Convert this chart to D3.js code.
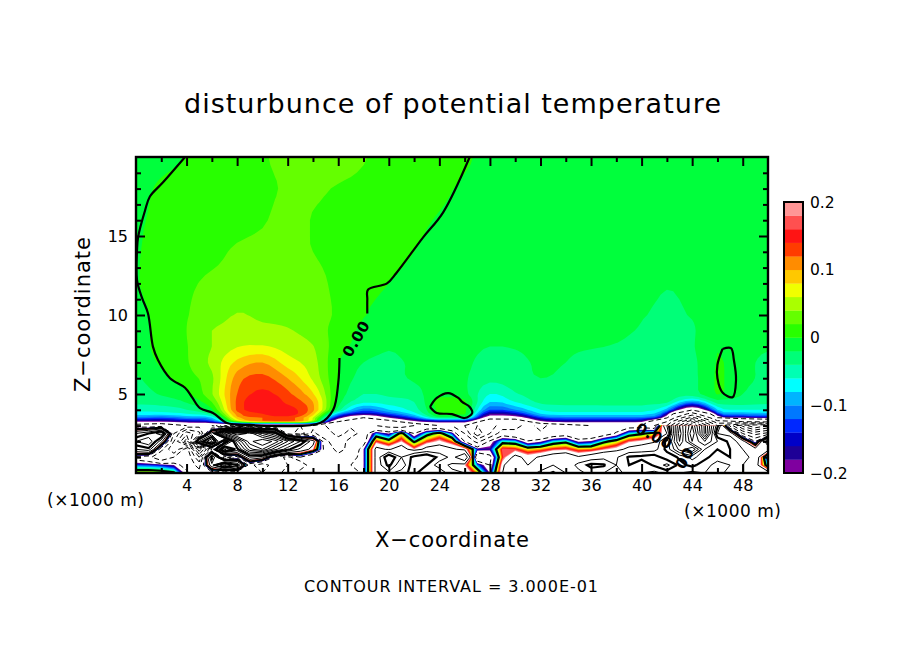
<!DOCTYPE html>
<html><head><meta charset="utf-8">
<script src="https://cdn.jsdelivr.net/npm/d3@7"></script>
<style>html,body{margin:0;background:#fff}svg{display:block}text{font-family:"DejaVu Sans",sans-serif;fill:#000}</style>
</head><body><svg id="c" width="904" height="654"></svg>
<script>
const titleText="disturbunce of potential temperature";
const xLabel="X\u2212coordinate", zLabel="Z\u2212coordinate", unitLabel="(\u00d71000 m)";
const intervalText="CONTOUR INTERVAL = 3.000E-01";
const xMajor=[4,8,12,16,20,24,28,32,36,40,44,48];
const xMinor=d3.range(2,50,4);
const zMajor=[5,10,15];
const zMinor=[1,2,3,4,6,7,8,9,11,12,13,14,16,17,18,19];
const barTicks=[-0.2,-0.1,0,0.1,0.2];
const levels=[-.2,-.18,-.16,-.14,-.12,-.1,-.08,-.06,-.04,-.02,0,.02,.04,.06,.08,.1,.12,.14,.16,.18,.2];
const bandColors=["#7f009f","#1e0096","#0000c8","#0028ff","#0078ff","#00b4ff","#00ffff","#00ffb4","#00ff78","#00ff3c","#28ff00","#64ff00","#aaff00","#f0ff00","#ffc800","#ff8c00","#ff3c00","#ff1414","#ff5050","#ff9696"];
const lineLevels=[-3.6,-3.3,-3,-2.7,-2.4,-2.1,-1.8,-1.5,-1.2,-.9,-.6,-.3,0,.3,.6,.9,1.2,1.5,1.8,2.1,2.4,2.7,3,3.3];
const upperLineLevels=lineLevels.filter(v=>v!==0);
const heavyLevels=[0,.9];

// upper field: columns x = 0,2,...,50 km
const upperZ=[20,18,16,14,12,10,9,8,7,6,5,4.5,4,3.75,3.5,3.25,3];
const upperRows=[
[-.012,-.006,.001,.01,.015,.019,.023,.026,.026,.021,.014,.011,.006,.002,-.004,-.006,-.007,-.008,-.009,-.009,-.009,-.009,-.009,-.009,-.009,-.009],
[-.006,.003,.008,.012,.015,.018,.021,.022,.019,.016,.012,.009,.003,-.002,-.005,-.006,-.007,-.008,-.009,-.009,-.009,-.009,-.009,-.009,-.009,-.009],
[-.002,.004,.009,.012,.015,.019,.023,.0195,.016,.012,.008,.003,-.001,-.004,-.006,-.007,-.007,-.008,-.009,-.009,-.009,-.01,-.01,-.009,-.009,-.009],
[-.001,.006,.012,.016,.022,.024,.024,.02,.015,.01,.005,.0,-.003,-.005,-.007,-.007,-.008,-.008,-.009,-.01,-.011,-.012,-.012,-.01,-.009,-.009],
[-.001,.009,.017,.023,.026,.029,.029,.025,.016,.006,.0,-.004,-.006,-.007,-.008,-.008,-.008,-.009,-.01,-.012,-.014,-.019,-.016,-.012,-.01,-.009],
[-.004,.005,.019,.029,.041,.036,.033,.027,.017,.001,-.005,-.008,-.009,-.01,-.011,-.012,-.012,-.013,-.014,-.016,-.019,-.023,-.019,-.014,-.012,-.01],
[-.006,.006,.02,.04,.047,.046,.042,.031,.012,-.004,-.008,-.01,-.011,-.012,-.013,-.013,-.014,-.015,-.016,-.018,-.021,-.026,-.022,-.006,-.01,-.012],
[-.008,.007,.019,.04,.059,.062,.052,.041,.008,-.008,-.018,-.012,-.012,-.014,-.02,-.019,-.016,-.018,-.019,-.021,-.024,-.027,-.022,-.001,-.012,-.018],
[-.012,.003,.018,.045,.085,.1,.07,.048,.001,-.02,-.024,-.017,-.013,-.016,-.028,-.024,-.018,-.02,-.026,-.029,-.03,-.03,-.025,.001,-.014,-.024],
[-.022,-.006,.012,.036,.11,.126,.1,.056,.0,-.028,-.026,-.018,-.014,-.018,-.034,-.027,-.02,-.024,-.03,-.03,-.03,-.03,-.026,.002,-.016,-.022],
[-.028,-.018,-.004,.038,.12,.145,.125,.082,-.004,-.04,-.036,-.028,-.006,-.014,-.06,-.042,-.03,-.03,-.03,-.032,-.032,-.032,-.03,.001,-.02,-.024],
[-.034,-.03,-.018,.02,.125,.155,.135,.1,-.012,-.055,-.05,-.04,.008,.004,-.08,-.06,-.036,-.034,-.034,-.034,-.034,-.036,-.1,-.03,-.03,-.034],
[-.055,-.052,-.04,-.004,.125,.15,.15,.105,-.03,-.11,-.08,-.05,.006,.006,-.12,-.1,-.06,-.05,-.05,-.05,-.05,-.09,-.28,-.08,-.06,-.06],
[-.07,-.07,-.06,-.03,.11,.14,.155,.09,-.09,-.16,-.12,-.07,.003,.003,-.17,-.15,-.08,-.07,-.07,-.07,-.07,-.16,-.7,-.14,-.1,-.09],
[-.11,-.12,-.1,-.08,.09,.12,.13,.06,-.17,-.3,-.2,-.12,-.03,-.03,-.25,-.24,-.13,-.11,-.11,-.11,-.11,-.28,-1.3,-.3,-.2,-.18],
[-.2,-.2,-.17,-.14,.02,.09,.1,.02,-.3,-.5,-.35,-.22,-.17,-.17,-.4,-.4,-.22,-.18,-.18,-.18,-.19,-.6,-2.1,-.7,-.6,-.5],
[-.35,-.4,-.3,-.3,-.3,-.3,-.3,-.3,-.5,-.6,-.5,-.4,-.3,-.3,-.5,-.5,-.4,-.35,-.3,-.3,-.3,-.9,-2.7,-1.2,-1.6,-1.8]
];
// lower field: columns x = 0,1,...,50 km
const lowerZ=[3,2.5,2,1.5,1,.5,0];
const lowerRows=[
[-.5,-.6,-.5,-.4,-.4,-.5,-.6,-1.5,-2.2,-1.8,-1.4,-1,-.8,-.9,-.7,-.6,-.5,-.5,-.6,-.6,-.7,-.8,-.6,-.5,-.5,-.6,-.9,-1.2,-1,-.8,-.7,-.5,-.7,-.5,-.5,-.4,-.4,-.4,-.4,-.4,-.4,-.5,.6,2.4,1.2,2.8,1,-.7,-1.6,-2.1,-1.8],
[.6,.9,1.4,-.6,-1.4,-1,.4,2.2,3,2.6,1.8,1.2,-.7,-1.1,-.5,-.9,-.4,-.8,-.4,-.1,-.2,.05,-.3,-.05,.05,-.14,-.6,-1.4,-.9,-.4,-.5,-.6,-.55,-.45,-.4,-.55,-.5,-.4,-.28,-.07,-.02,.05,.3,2.6,.9,2.8,.6,.5,-.6,-1,-.8],
[1.2,1.5,.4,-.9,-2,.6,1.6,-.4,1.4,2.6,3,2.6,1.8,1.2,.4,-.5,-.9,-.4,-.4,.16,.05,.2,-.02,.14,.22,.12,-.3,-.7,-.25,-.05,-.07,-.28,-.21,-.07,-.03,-.21,-.18,-.03,.05,.18,.22,.28,1,2.4,1.2,1.8,1.2,.8,.4,-.3,.9],
[.6,.8,-.5,-1.2,-.4,-2,-.6,1.6,.8,2,2.4,1.6,1,.5,.2,-.4,-.7,-.5,-.2,.35,.28,.4,.2,.36,.4,.33,.25,-.14,-.17,.18,.16,.07,.1,.16,.18,.1,.11,.18,.24,.35,.4,.45,1,1.9,2.4,1.2,.9,.9,.6,.4,.4],
[-.4,-.5,-.9,-.6,-.3,-1.2,1,-.8,-.4,.6,.4,-.4,-.7,-.3,-.6,-.3,-.5,-.4,-.2,.35,1.2,.6,1,1.2,.8,.5,.9,-.5,-.35,.15,.35,.25,.32,.4,.45,.32,.4,.5,.55,.95,1,1.1,.7,.95,1.3,1,.7,.9,.7,.5,-.25],
[-.12,-.13,-.15,-.2,-.4,-.7,.5,1.6,.9,-.5,-.8,-.4,-.6,-.9,-.3,-.6,-.4,-.3,-.2,.35,1,.3,1.2,.9,.4,.25,.2,-.1,-.3,.25,.6,.3,.35,.6,.35,.7,1,.95,.6,.9,.7,.95,1.3,.8,1,.7,.5,.6,.6,.4,-.1],
[.07,.08,.06,.02,-.25,-.5,-.4,-.9,-.6,-.3,-.6,-.4,-.8,-.4,-.6,-.4,-.3,-.6,-.2,.35,.5,.8,1,.6,.9,.35,.3,.1,-.2,.3,.5,.4,.7,.95,.6,.5,.7,.6,.5,.7,.6,.5,.7,.6,.5,.6,.5,.7,.6,.5,.4]
];
// zero contour, [km, km]
const zeroLineA=[[3.88,20],[2.14,18.4],[1.1,17.5],[.71,16.6],[.16,14.9],[.08,14.1],[.08,12.2],[.47,11.1],[.95,10.1],[1.34,8],[1.74,7.15],[2.69,6],[3.88,5.4],[4.43,4.8],[5.06,4.1],[6.09,3.8],[7.2,3.16],[9,3.04],[11.4,2.97],[14.56,3.16],[15.6,4],[16,5.7],[16.1,7.28]];
const zeroLineB=[[18.3,10.1],[18.3,11],[18.35,11.6],[19.86,12],[20.6,12.66],[22.7,14.9],[24.3,16.5],[26.4,20]];
const zeroLoopC=[[23.26,4.18],[23.8,4.75],[24.7,5.06],[25.5,4.75],[25.8,4.5],[26.4,4.18],[26.6,3.8],[26,3.48],[25,3.73],[23.8,3.8],[23.26,4.18]];
const zeroLoopD=[[46.4,7.85],[47.07,7.9],[47.3,7.15],[47.47,5.9],[47.2,4.8],[46.4,5.1],[46,6],[46,6.85],[46.4,7.85]];
const contourLabels=[{x:17.4,z:8.5,a:-60,t:"0.00"},{x:41,z:2.35,a:28,t:"0.00"},{x:43.4,z:.95,a:-60,t:"00"}];

const svg=d3.select("#c");
const x=d3.scaleLinear().domain([0,50]).range([136,768]);
const z=d3.scaleLinear().domain([0,20]).range([473,157]);
const defs=svg.append("defs");
defs.append("clipPath").attr("id","plot").append("rect").attr("x",136).attr("y",157).attr("width",632).attr("height",316);
const plot=svg.append("g").attr("clip-path","url(#plot)");
plot.append("rect").attr("x",136).attr("y",157).attr("width",632).attr("height",316).attr("fill","#fff");

function makeField(rows,zs,xStep){
  const ny=rows.length,nx=rows[0].length;
  const values=rows.flat();
  const zi=d3.scaleLinear().domain(d3.range(ny)).range(zs).clamp(true);
  const X=c=>x(Math.max(0,Math.min(nx-1,c-.5))*xStep);
  const Y=c=>z(zi(c-.5));
  const gen=d3.contours().size([nx,ny]);
  return {nx,ny,values,gen,X,Y};
}
// render-only refinement of the read grid, so filled bands have rounded edges
function refine1(a,k){
  const out=[];
  for(let i=0;i<a.length-1;i++){
    const p0=a[Math.max(0,i-1)],p1=a[i],p2=a[i+1],p3=a[Math.min(a.length-1,i+2)];
    const lo=Math.min(p1,p2),hi=Math.max(p1,p2);
    for(let j=0;j<k;j++){
      const t=j/k;
      const v=.5*(2*p1+(p2-p0)*t+(2*p0-5*p1+4*p2-p3)*t*t+(3*p1-p0-3*p2+p3)*t*t*t);
      out.push(Math.max(lo,Math.min(hi,v)));
    }
  }
  out.push(a[a.length-1]);
  return out;
}
function refineGrid(rows,zs,kx,kz){
  const r1=rows.map(r=>refine1(r,kx));
  const cols=d3.range(r1[0].length).map(i=>refine1(r1.map(r=>r[i]),kz));
  const r2=d3.range(cols[0].length).map(j=>cols.map(c=>c[j]));
  const zz=[];
  for(let i=0;i<zs.length-1;i++) for(let j=0;j<kz;j++) zz.push(zs[i]+(zs[i+1]-zs[i])*j/kz);
  zz.push(zs[zs.length-1]);
  return [r2,zz];
}
const [upperFine,upperFineZ]=refineGrid(upperRows,upperZ,4,4);
const upper=makeField(upperRows,upperZ,2);
const upperF=makeField(upperFine,upperFineZ,.5);
const lower=makeField(lowerRows,lowerZ,1);

function fillField(f){
  const path=d3.geoPath(d3.geoTransform({point(a,b){this.stream.point(f.X(a),f.Y(b));}}));
  levels.forEach((t,i)=>{
    const geom=f.gen.thresholds([t])(f.values)[0];
    plot.append("path").attr("d",path(geom)).attr("fill",i<bandColors.length?bandColors[i]:"#fff").attr("stroke","none");
  });
}
fillField(lower);
fillField(upperF);

function linesFor(f,t){
  const geom=f.gen.thresholds([t])(f.values)[0];
  const out=[];
  const onEdge=(p,q)=>p[0]===0||q[0]===0||p[0]===f.nx||q[0]===f.nx||p[1]===0||q[1]===0||p[1]===f.ny||q[1]===f.ny;
  geom.coordinates.forEach(poly=>poly.forEach(ring=>{
    let cur=[];
    for(let i=0;i<ring.length-1;i++){
      if(onEdge(ring[i],ring[i+1])){ if(cur.length>1) out.push(cur); cur=[]; continue;}
      if(!cur.length) cur.push(ring[i]);
      cur.push(ring[i+1]);
    }
    if(cur.length>1) out.push(cur);
  }));
  return out;
}
function drawLines(f,lv){
  const line=d3.line().x(p=>f.X(p[0])).y(p=>f.Y(p[1]));
  lv.forEach(t=>{
    const d=linesFor(f,t).map(s=>line(s)).join("");
    plot.append("path").attr("d",d).attr("fill","none").attr("stroke","#000")
      .attr("stroke-width",heavyLevels.includes(t)?2.2:1).attr("stroke-dasharray",t<0?"5 3":null);
  });
}
drawLines(lower,lineLevels);
drawLines(upper,upperLineLevels);

const zeroLine=d3.line().curve(d3.curveCatmullRom).x(p=>x(p[0])).y(p=>z(p[1]));
[zeroLineA,zeroLineB,zeroLoopC,zeroLoopD].forEach(a=>{
  plot.append("path").attr("d",zeroLine(a)).attr("fill","none").attr("stroke","#000").attr("stroke-width",2.2);
});
contourLabels.forEach(l=>{
  svg.append("text").attr("transform",`translate(${x(l.x)},${z(l.z)}) rotate(${l.a})`)
    .attr("text-anchor","middle").attr("dy",".36em").attr("font-size",15).attr("font-weight","bold")
    .attr("letter-spacing",0.5).text(l.t);
});

// frame and axes
const axes=svg.append("g");
function ax(gen,tx,ty,vals,len,fmt,pad){
  const g=axes.append("g").attr("transform",`translate(${tx},${ty})`)
    .call(gen.tickValues(vals).tickSizeInner(-len).tickSizeOuter(0).tickPadding(pad||8).tickFormat(fmt||(()=>"")));
  g.select(".domain").remove();
  g.selectAll(".tick line").attr("stroke","#000").attr("stroke-width",2);
  g.selectAll("text").attr("font-size",16).attr("font-family",'"DejaVu Sans",sans-serif').attr("fill","#000");
}
ax(d3.axisBottom(x),0,473,xMajor,9,d=>d,7);
ax(d3.axisBottom(x),0,473,xMinor,5);
ax(d3.axisTop(x),0,157,xMajor,9);
ax(d3.axisTop(x),0,157,xMinor,5);
ax(d3.axisLeft(z),136,0,zMajor,9,d=>d,8);
ax(d3.axisLeft(z),136,0,zMinor,5);
ax(d3.axisRight(z),768,0,zMajor,9);
ax(d3.axisRight(z),768,0,zMinor,5);
axes.append("rect").attr("x",136).attr("y",157).attr("width",632).attr("height",316).attr("fill","none").attr("stroke","#000").attr("stroke-width",2.4);

// colour bar
const bar=d3.scaleLinear().domain([-.2,.2]).range([473,202]);
const barG=svg.append("g");
bandColors.forEach((c,i)=>{
  barG.append("rect").attr("x",784).attr("width",19).attr("y",bar(levels[i+1])).attr("height",bar(levels[i])-bar(levels[i+1])+.3).attr("fill",c);
});
barG.append("rect").attr("x",784).attr("y",202).attr("width",19).attr("height",271).attr("fill","none").attr("stroke","#000").attr("stroke-width",2);
barTicks.forEach(v=>{
  barG.append("text").attr("x",810).attr("y",bar(v)).attr("dy",".36em").attr("font-size",15.5)
    .text(v===0?"0":String(v).replace("-","\u2212"));
});

// texts
svg.append("text").attr("x",184).attr("y",113).attr("font-size",27).attr("textLength",537).attr("lengthAdjust","spacing").text(titleText);
svg.append("text").attr("x",375).attr("y",547).attr("font-size",21).attr("textLength",154).attr("lengthAdjust","spacing").text(xLabel);
svg.append("text").attr("transform","translate(90,392) rotate(-90)").attr("font-size",21).attr("textLength",155).attr("lengthAdjust","spacing").text(zLabel);
svg.append("text").attr("x",47).attr("y",506).attr("font-size",17).attr("textLength",97).attr("lengthAdjust","spacing").text(unitLabel);
svg.append("text").attr("x",684).attr("y",517).attr("font-size",17).attr("textLength",97).attr("lengthAdjust","spacing").text(unitLabel);
svg.append("text").attr("x",304).attr("y",592).attr("font-size",16).attr("textLength",294).attr("lengthAdjust","spacing").text(intervalText);
</script></body></html>
